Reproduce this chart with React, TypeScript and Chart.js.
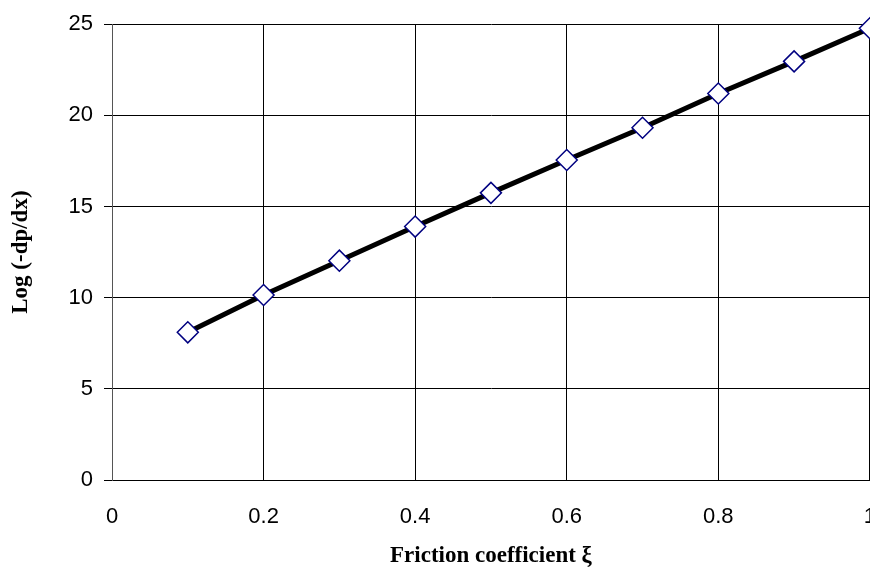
import React, { useEffect, useRef } from "react";
import { Chart, registerables } from "chart.js";

Chart.register(...registerables);

const xValues = [0.1, 0.2, 0.3, 0.4, 0.5, 0.6, 0.7, 0.8, 0.9, 1.0];
const yValues = [8.1, 10.15, 12.03, 13.9, 15.75, 17.55, 19.32, 21.2, 22.96, 24.78];
const xTickLabels = ["0", "0.2", "0.4", "0.6", "0.8", "1"];
const yTickLabels = ["0", "5", "10", "15", "20", "25"];
const xTitle = "Friction coefficient ξ";
const yTitle = "Log (-dp/dx)";

export default function App() {
  const ref = useRef<HTMLCanvasElement | null>(null);

  useEffect(() => {
    document.body.style.margin = "0";
    document.body.style.overflow = "hidden";
    const canvas = ref.current;
    if (!canvas) return;
    const chart = new Chart(canvas, {
      type: "line",
      data: {
        datasets: [
          {
            data: xValues.map((x, i) => ({ x, y: yValues[i] })),
            borderColor: "#000000",
            borderWidth: 5,
            pointStyle: "rectRot",
            pointRadius: 10.5,
            pointBorderWidth: 1.5,
            pointBorderColor: "#000080",
            pointBackgroundColor: "#ffffff",
            tension: 0,
            clip: false as any,
          },
        ],
      },
      options: {
        responsive: false,
        animation: false,
        layout: { padding: { top: 23, right: 29, left: 0, bottom: 0 } },
        plugins: { legend: { display: false }, tooltip: { enabled: false } },
        scales: {
          x: {
            type: "linear",
            min: 0,
            max: 1,
            afterFit: (s: any) => {
              s.height = 87;
            },
            ticks: {
              stepSize: 0.2,
              padding: 24,
              color: "#000",
              font: { family: "'Liberation Sans', Arial, sans-serif", size: 22 },
              maxRotation: 0,
              callback: (_v: any, i: number) => xTickLabels[i],
            },
            grid: { color: "#000", lineWidth: 1, drawTicks: false },
            border: { color: "#000", width: 1 },
            title: {
              display: true,
              text: xTitle,
              color: "#000",
              font: { family: "'Liberation Serif', 'Times New Roman', serif", size: 23, weight: "bold", lineHeight: 1 },
              padding: { top: 0, bottom: -1 },
            },
          },
          y: {
            type: "linear",
            min: 0,
            max: 25,
            afterFit: (s: any) => {
              s.width = 112;
            },
            ticks: {
              stepSize: 5,
              padding: 11,
              color: "#000",
              font: { family: "'Liberation Sans', Arial, sans-serif", size: 22 },
              callback: (_v: any, i: number) => yTickLabels[i],
            },
            grid: { color: "#000", lineWidth: 1, drawTicks: true, tickLength: 8 },
            border: { color: "#555", width: 1 },
            title: {
              display: true,
              text: yTitle,
              color: "#000",
              font: { family: "'Liberation Serif', 'Times New Roman', serif", size: 23, weight: "bold", lineHeight: 1 },
              padding: { top: 10, bottom: 0 },
            },
          },
        },
      },
    });
    return () => chart.destroy();
  }, []);

  return (
    <div style={{ position: "fixed", left: 0, top: 0, width: 900, height: 567 }}>
      <canvas ref={ref} width={900} height={567} style={{ width: 900, height: 567, display: "block" }} />
    </div>
  );
}
